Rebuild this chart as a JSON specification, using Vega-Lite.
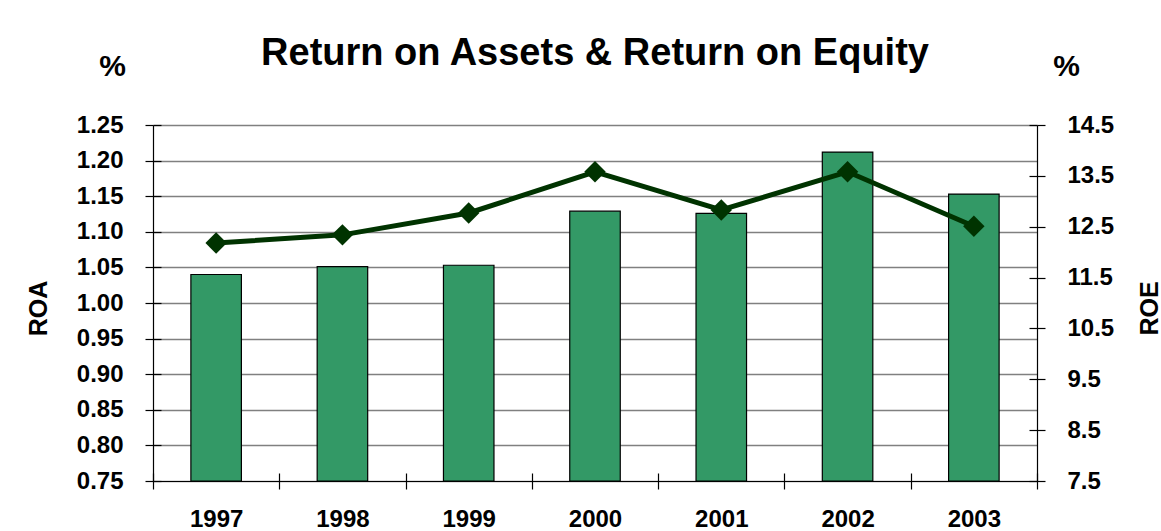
{
  "$schema": "https://vega.github.io/schema/vega-lite/v6.json",
  "width": 884,
  "height": 356,
  "autosize": {"type": "none"},
  "padding": {"top": 125, "left": 153, "right": 124, "bottom": 50},
  "background": "white",
  "config": {
    "font": "Liberation Sans",
    "view": {"stroke": null},
    "axis": {
      "labelFontSize": 24,
      "labelFontWeight": "bold",
      "labelColor": "black",
      "titleFontWeight": "bold",
      "titleColor": "black",
      "domainColor": "black",
      "domainWidth": 1.2,
      "tickColor": "black",
      "tickWidth": 1.2,
      "gridColor": "#808080",
      "gridWidth": 1.5,
      "gridOpacity": 1
    }
  },
  "title": {
    "text": "Return on Assets & Return on Equity",
    "fontSize": 38,
    "fontWeight": "bold",
    "color": "black",
    "anchor": "middle",
    "frame": "group",
    "offset": -22
  },
  "data": {
    "values": [
      {"Year": "1997", "ROA": 1.040, "ROE": 12.18},
      {"Year": "1998", "ROA": 1.051, "ROE": 12.34},
      {"Year": "1999", "ROA": 1.053, "ROE": 12.77},
      {"Year": "2000", "ROA": 1.129, "ROE": 13.58},
      {"Year": "2001", "ROA": 1.126, "ROE": 12.83},
      {"Year": "2002", "ROA": 1.212, "ROE": 13.58},
      {"Year": "2003", "ROA": 1.153, "ROE": 12.51}
    ]
  },
  "resolve": {"scale": {"y": "independent"}, "axis": {"x": "independent", "y": "independent"}},
  "layer": [
    {
      "mark": {"type": "bar", "fill": "#339966", "stroke": "black", "strokeWidth": 1.2, "width": {"band": 0.4}},
      "encoding": {
        "x": {
          "field": "Year", "type": "nominal",
          "scale": {"paddingInner": 0, "paddingOuter": 0},
          "axis": {"orient": "bottom", "title": null, "labelAngle": 0, "tickBand": "extent", "tickSize": 8, "labelPadding": 18, "grid": false}
        },
        "y": {
          "field": "ROA", "type": "quantitative",
          "scale": {"domain": [0.75, 1.25], "nice": false, "zero": false, "clamp": true},
          "axis": {
            "orient": "left",
            "values": [0.75, 0.8, 0.85, 0.9, 0.95, 1.0, 1.05, 1.1, 1.15, 1.2, 1.25],
            "format": ".2f",
            "grid": true,
            "tickSize": 8,
            "labelPadding": 22,
            "title": "ROA",
            "titleFontSize": 25,
            "titleAngle": -90,
            "titleAlign": "center",
            "titleBaseline": "middle",
            "titleX": -115,
            "titleY": 183
          }
        }
      }
    },
    {
      "mark": {"type": "bar", "opacity": 0, "width": {"band": 0.4}},
      "encoding": {
        "x": {
          "field": "Year", "type": "nominal",
          "axis": {"orient": "bottom", "title": null, "labels": false, "domain": false, "tickBand": "extent", "tickSize": -8, "grid": false}
        },
        "y": {
          "field": "ROA", "type": "quantitative",
          "scale": {"domain": [0.75, 1.25], "nice": false, "zero": false, "clamp": true},
          "axis": {
            "orient": "left",
            "values": [0.75, 0.8, 0.85, 0.9, 0.95, 1.0, 1.05, 1.1, 1.15, 1.2, 1.25],
            "labels": false,
            "domain": false,
            "grid": false,
            "tickSize": -8,
            "title": "%",
            "titleFontSize": 30,
            "titleAngle": 0,
            "titleAlign": "center",
            "titleBaseline": "middle",
            "titleX": -41,
            "titleY": -59
          }
        }
      }
    },
    {
      "mark": {"type": "line", "color": "#003300", "strokeWidth": 5, "point": {"shape": "diamond", "size": 460, "filled": true, "color": "#003300"}},
      "encoding": {
        "x": {"field": "Year", "type": "nominal", "axis": null},
        "y": {
          "field": "ROE", "type": "quantitative",
          "scale": {"domain": [7.5, 14.5], "nice": false, "zero": false},
          "axis": {
            "orient": "right",
            "values": [7.5, 8.5, 9.5, 10.5, 11.5, 12.5, 13.5, 14.5],
            "format": ".1f",
            "grid": false,
            "tickSize": 8,
            "labelPadding": 22,
            "title": "ROE",
            "titleFontSize": 25,
            "titleAngle": -90,
            "titleAlign": "center",
            "titleBaseline": "middle",
            "titleX": 112,
            "titleY": 183
          }
        }
      }
    },
    {
      "mark": {"type": "line", "strokeOpacity": 0},
      "encoding": {
        "x": {"field": "Year", "type": "nominal", "axis": null},
        "y": {
          "field": "ROE", "type": "quantitative",
          "scale": {"domain": [7.5, 14.5], "nice": false, "zero": false},
          "axis": {
            "orient": "right",
            "values": [7.5, 8.5, 9.5, 10.5, 11.5, 12.5, 13.5, 14.5],
            "labels": false,
            "domain": false,
            "grid": false,
            "tickSize": -8,
            "title": "%",
            "titleFontSize": 30,
            "titleAngle": 0,
            "titleAlign": "center",
            "titleBaseline": "middle",
            "titleX": 29,
            "titleY": -59
          }
        }
      }
    }
  ]
}
